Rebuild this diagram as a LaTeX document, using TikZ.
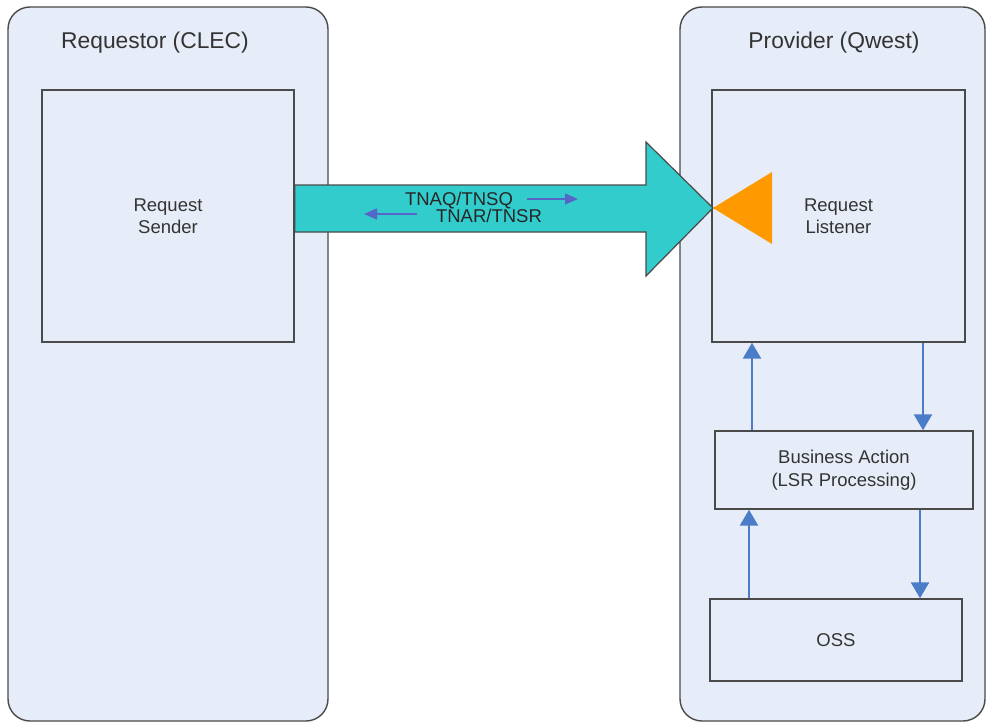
\documentclass[tikz,border=0pt]{standalone}
\usepackage{fontspec}
\setmainfont{Liberation Sans}
\usetikzlibrary{arrows.meta,calc}
\definecolor{panelfill}{HTML}{E7EDF8}
\definecolor{edgegray}{HTML}{4A4A4A}
\definecolor{bandcyan}{HTML}{33CCCC}
\definecolor{conegold}{HTML}{FF9900}
\definecolor{flowblue}{HTML}{4A7CC8}
\definecolor{msgblue}{HTML}{5566C8}
\begin{document}
\begin{tikzpicture}[x=1pt,y=-1pt,
  panel/.style={draw=edgegray,line width=1.4pt,fill=panelfill,rounded corners=22pt},
  box/.style={draw=edgegray,line width=1.4pt,fill=panelfill,inner sep=0pt,align=center,
    font=\fontsize{18.5}{22.5}\selectfont},
  title/.style={font=\fontsize{22.8}{27}\selectfont,text=black!80},
  body/.style={font=\fontsize{18.5}{22.5}\selectfont,text=black!85,align=center},
  flow/.style={draw=flowblue,line width=2.6pt,-{Triangle[width=18pt,length=16pt]}},
  msg/.style={draw=msgblue,line width=1.4pt,-{Triangle[width=11pt,length=13pt]}}]
\useasboundingbox (0,0) rectangle (986,723);
\fill[white] (0,0) rectangle (986,723);
% panels
\draw[panel] (8,7) rectangle (328,721);
\draw[panel] (680,7) rectangle (985,721);
\node[title,anchor=base] (reqtitle) at (155,48) {Requestor (CLEC)};
\node[title,anchor=base] (provtitle) at (834,48) {Provider (Qwest)};
% boxes
\node[box,minimum width=252pt,minimum height=252pt,text=black!80] (sender) at (168,216) {Request\\Sender};
\node[box,minimum width=253pt,minimum height=252pt,text=black!80] (listener) at (838.5,216) {Request\\Listener};
\node[box,minimum width=258pt,minimum height=78pt,text=black!80] (biz) at (844,470) {Business Action\\(LSR Processing)};
\node[box,minimum width=252pt,minimum height=82pt,text=black!80] (oss) at (836,640) {OSS};
% big arrow
\coordinate (tip) at (713,208);
\draw[edgegray,line width=1.2pt,fill=bandcyan]
  (sender.east |- 0,185) -- (646,185) -- (646,142) -- (tip) -- (646,276) -- (646,232) -- (sender.east |- 0,232) -- cycle;
% orange cone
\fill[conegold] (tip) -- (772,172) -- (772,244) -- cycle;
% labels in the band
\node[body,anchor=base] (q) at (459,205) {TNAQ/TNSQ};
\node[body,anchor=base] (r) at (489,222) {TNAR/TNSR};
\coordinate (qa) at (527,199);
\coordinate (qb) at (578,199);
\coordinate (ra) at (417,214);
\coordinate (rb) at (364,214);
\draw[msg] (qa) -- (qb);
\draw[msg] (ra) -- (rb);
% vertical flows
\draw[flow] (biz.north -| 752,0) -- (listener.south -| 752,0);
\draw[flow] (listener.south -| 923,0) -- (biz.north -| 923,0);
\draw[flow] (oss.north -| 749,0) -- (biz.south -| 749,0);
\draw[flow] (biz.south -| 920,0) -- (oss.north -| 920,0);
\end{tikzpicture}
\end{document}
